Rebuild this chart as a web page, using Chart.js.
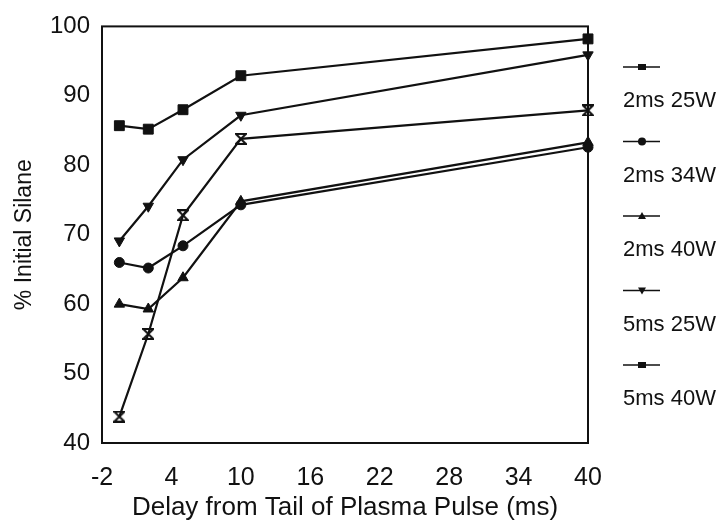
<!DOCTYPE html>
<html>
<head>
<meta charset="utf-8">
<script src="https://cdn.jsdelivr.net/npm/chart.js@4.4.1/dist/chart.umd.min.js"></script>
<style>
  html, body { margin: 0; padding: 0; background: #fff; }
  #wrap { width: 727px; height: 529px; position: relative; }
</style>
</head>
<body>
<div id="wrap"><canvas id="silaneChart"></canvas></div>
<script>
/* Silane depletion vs delay from plasma pulse tail */
const DELAY_MS = [-0.5, 2, 5, 10, 40];
const SERIES_LABELS = ["2ms 25W", "2ms 34W", "2ms 40W", "5ms 25W", "5ms 40W"];
const SILANE_2MS_25W = [85.7, 85.2, 88.0, 92.9, 98.2];
const SILANE_2MS_34W = [66.0, 65.2, 68.4, 74.3, 82.6];
const SILANE_2MS_40W = [60.0, 59.3, 63.8, 74.8, 83.3];
const SILANE_5MS_25W = [69.1, 74.1, 80.8, 87.2, 95.9];
const SILANE_5MS_40W = [43.8, 55.7, 72.8, 83.8, 87.9];
const X_TICKS = [-2, 4, 10, 16, 22, 28, 34, 40];
const Y_TICKS = [40, 50, 60, 70, 80, 90, 100];

const INK = "#111";
const FONT = "'Liberation Sans', Arial, sans-serif";

function hourglass(size, lw) {
  const c = document.createElement("canvas");
  c.width = size;
  c.height = size;
  const g = c.getContext("2d");
  const p = lw / 2;
  g.strokeStyle = INK;
  g.lineWidth = lw;
  g.beginPath();
  g.moveTo(p, p);
  g.lineTo(size - p, p);
  g.lineTo(p, size - p);
  g.lineTo(size - p, size - p);
  g.closePath();
  g.stroke();
  return c;
}

const MARKERS = [
  { style: "rect", radius: 7, rotation: 0 },
  { style: "circle", radius: 5, rotation: 0 },
  { style: "triangle", radius: 6, rotation: 0 },
  { style: "triangle", radius: 6, rotation: 180 },
  { style: hourglass(12, 2), radius: 6, rotation: 0 },
];

function points(values) {
  return values.map((v, i) => ({ x: DELAY_MS[i], y: v }));
}

const SERIES = [SILANE_2MS_25W, SILANE_2MS_34W, SILANE_2MS_40W, SILANE_5MS_25W, SILANE_5MS_40W];

const datasets = SERIES.map((vals, i) => ({
  label: SERIES_LABELS[i],
  data: points(vals),
  borderColor: INK,
  backgroundColor: INK,
  borderWidth: 2.2,
  pointStyle: MARKERS[i].style,
  pointRadius: MARKERS[i].radius,
  pointRotation: MARKERS[i].rotation,
  pointBackgroundColor: INK,
  pointBorderColor: INK,
  pointBorderWidth: 1,
  tension: 0,
  clip: false,
}));

// legend marker drawn by hand: short line with the symbol in the middle
function legendMarker(ctx, i, cx, cy) {
  const r = 4;
  ctx.fillStyle = INK;
  ctx.beginPath();
  if (i === 0 || i === 4) {
    ctx.rect(cx - r, cy - 3, 2 * r, 6);
  } else if (i === 1) {
    ctx.arc(cx, cy, r, 0, Math.PI * 2);
  } else if (i === 2) {
    ctx.moveTo(cx - r, cy + 3);
    ctx.lineTo(cx + r, cy + 3);
    ctx.lineTo(cx, cy - 4);
    ctx.closePath();
  } else {
    ctx.moveTo(cx - r, cy - 3);
    ctx.lineTo(cx + r, cy - 3);
    ctx.lineTo(cx, cy + 4);
    ctx.closePath();
  }
  ctx.fill();
}

const framePlugin = {
  id: "frame",
  beforeDatasetsDraw(chart) {
    const { ctx, chartArea: a } = chart;
    ctx.save();
    ctx.strokeStyle = INK;
    ctx.lineWidth = 2;
    ctx.strokeRect(a.left, a.top, a.right - a.left, a.bottom - a.top);
    ctx.restore();
  },
  afterDraw(chart) {
    const { ctx, chartArea: a } = chart;
    const x0 = a.right + 35;
    ctx.save();
    ctx.font = "22px " + FONT;
    ctx.textBaseline = "middle";
    ctx.textAlign = "left";
    SERIES_LABELS.forEach((label, i) => {
      const ly = 67 + i * 74.5;
      ctx.strokeStyle = INK;
      ctx.lineWidth = 1.5;
      ctx.beginPath();
      ctx.moveTo(x0, ly);
      ctx.lineTo(x0 + 37, ly);
      ctx.stroke();
      legendMarker(ctx, i, x0 + 19, ly);
      ctx.fillStyle = INK;
      ctx.fillText(label, x0, ly + 34);
    });
    ctx.restore();
  },
};

new Chart(document.getElementById("silaneChart"), {
  type: "line",
  data: { datasets },
  plugins: [framePlugin],
  options: {
    responsive: true,
    maintainAspectRatio: false,
    animation: false,
    events: [],
    layout: { padding: { left: 7, right: 139, top: 24, bottom: 3 } },
    plugins: { legend: { display: false }, tooltip: { enabled: false } },
    scales: {
      x: {
        type: "linear",
        min: -2,
        max: 40,
        afterBuildTicks(scale) {
          scale.ticks = X_TICKS.map((v) => ({ value: v }));
        },
        afterFit(scale) {
          scale.height = 83;
        },
        grid: { display: false, drawTicks: false },
        border: { display: false },
        ticks: { color: INK, font: { family: FONT, size: 25 }, padding: 20, maxRotation: 0 },
        title: {
          display: true,
          text: "Delay from Tail of Plasma Pulse (ms)",
          color: INK,
          font: { family: FONT, size: 26 },
          padding: { top: 0, bottom: 3 },
        },
      },
      y: {
        min: 40,
        max: 100,
        afterBuildTicks(scale) {
          scale.ticks = Y_TICKS.map((v) => ({ value: v }));
        },
        afterFit(scale) {
          scale.width = 95;
        },
        grid: { display: false, drawTicks: false },
        border: { display: false },
        ticks: { color: INK, font: { family: FONT, size: 24 }, padding: 12 },
        title: {
          display: true,
          text: "% Initial Silane",
          color: INK,
          font: { family: FONT, size: 23 },
          padding: { top: 4, bottom: 4 },
        },
      },
    },
  },
});
</script>
</body>
</html>
